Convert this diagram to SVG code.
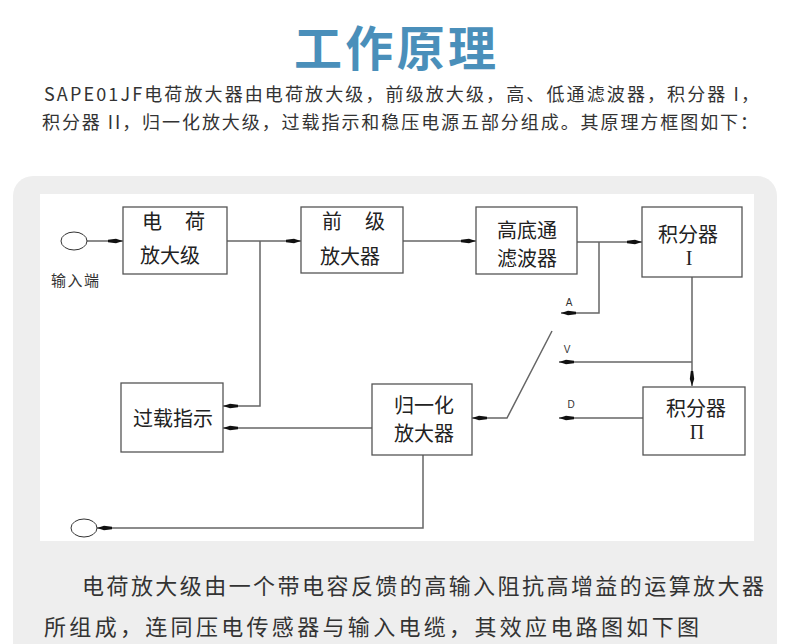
<svg xmlns="http://www.w3.org/2000/svg" width="790" height="644" viewBox="0 0 790 644">
<style>
.title{font-family:"Noto Sans CJK SC","Noto Sans",sans-serif;font-weight:700;font-size:48px;fill:#4a8fba}
.para{font-family:"Noto Sans CJK SC","Noto Sans",sans-serif;font-size:18px;fill:#333}
.para2{font-family:"Noto Sans CJK SC","Noto Sans",sans-serif;font-size:22px;fill:#333}
.box{fill:#fff;stroke:#555;stroke-width:1.3}
.lbl{font-family:"Noto Sans CJK SC",sans-serif;font-size:20px;fill:#222;text-anchor:middle}
.rom{font-family:"Liberation Serif",serif;font-size:20px;fill:#222;text-anchor:middle}
.small{font-family:"Liberation Sans",sans-serif;font-size:10px;fill:#333;text-anchor:middle}
.port{fill:#fff;stroke:#333;stroke-width:1}
.wire{fill:none;stroke:#666;stroke-width:1.5}
.wa{fill:none;stroke:#666;stroke-width:1.5;marker-end:url(#ah)}
</style>
<defs>
<marker id="ah" markerUnits="userSpaceOnUse" markerWidth="16" markerHeight="6" viewBox="-15 -3 16 6" refX="0" refY="0" orient="auto">
<polygon points="-15,-1.2 -7,-2.2 0,0 -7,2.2 -15,1.2" fill="#111"/>
</marker>
</defs>
<rect width="790" height="644" fill="#fff"/>
<text class="title" x="294" y="66" textLength="202">工作原理</text>
<text class="para" x="44" y="101" textLength="715">SAPE01JF电荷放大器由电荷放大级，前级放大级，高、低通滤波器，积分器 I，</text>
<text class="para" x="42" y="129" textLength="716">积分器 II，归一化放大级，过载指示和稳压电源五部分组成。其原理方框图如下：</text>
<rect x="13" y="176" width="764" height="520" rx="20" fill="#eeeeee"/>
<rect x="40" y="194" width="714" height="347" fill="#fff"/>

<g id="connectors">
<path class="wa" d="M87,241 H123"/>
<path class="wa" d="M227,241 H301"/>
<path class="wa" d="M260,241 V406 H223"/>
<path class="wa" d="M403,241 H476"/>
<path class="wa" d="M577,242 H642"/>
<path class="wa" d="M599,242 V313 H561"/>
<path class="wa" d="M692,277 V386"/>
<path class="wa" d="M692,362 H559"/>
<path class="wa" d="M643,418 H559"/>
<path class="wa" d="M552,331 L507,418 H472"/>
<path class="wa" d="M372,428 H223"/>
<path class="wa" d="M423,455 V528 H97"/>
<text class="small" x="569" y="306">A</text>
<text class="small" x="567" y="353">V</text>
<text class="small" x="571" y="408">D</text>
</g>

<g id="input">
<ellipse class="port" cx="74" cy="241" rx="13" ry="9"/>
<text x="51" y="286" font-family="Noto Sans CJK SC,sans-serif" font-size="15" fill="#333" textLength="48">输入端</text>
</g>
<g id="output">
<ellipse class="port" cx="84" cy="528" rx="13" ry="9"/>
</g>

<g id="charge-amp">
<rect class="box" x="123" y="207" width="104" height="67"/>
<text class="lbl" x="152" y="229">电</text>
<text class="lbl" x="195" y="229">荷</text>
<text class="lbl" x="170" y="263">放大级</text>
</g>
<g id="pre-amp">
<rect class="box" x="301" y="207" width="102" height="66"/>
<text class="lbl" x="332" y="229">前</text>
<text class="lbl" x="375" y="229">级</text>
<text class="lbl" x="350" y="264">放大器</text>
</g>
<g id="filter">
<rect class="box" x="476" y="207" width="101" height="67"/>
<text class="lbl" x="527" y="238">高底通</text>
<text class="lbl" x="527" y="266">滤波器</text>
</g>
<g id="integrator-1">
<rect class="box" x="642" y="207" width="100" height="70"/>
<text class="lbl" x="688" y="242">积分器</text>
<text class="rom" x="689" y="265">I</text>
</g>
<g id="integrator-2">
<rect class="box" x="643" y="387" width="102" height="68"/>
<text class="lbl" x="696" y="416">积分器</text>
<text class="rom" x="697" y="439">Π</text>
</g>
<g id="normalizer">
<rect class="box" x="372" y="384" width="100" height="71"/>
<text class="lbl" x="424" y="413">归一化</text>
<text class="lbl" x="424" y="441">放大器</text>
</g>
<g id="overload">
<rect class="box" x="121" y="383" width="102" height="69"/>
<text class="lbl" x="173" y="426">过载指示</text>
</g>

<text class="para2" x="82" y="594" textLength="682">电荷放大级由一个带电容反馈的高输入阻抗高增益的运算放大器</text>
<text class="para2" x="44" y="635" textLength="655">所组成，连同压电传感器与输入电缆，其效应电路图如下图</text>
</svg>
